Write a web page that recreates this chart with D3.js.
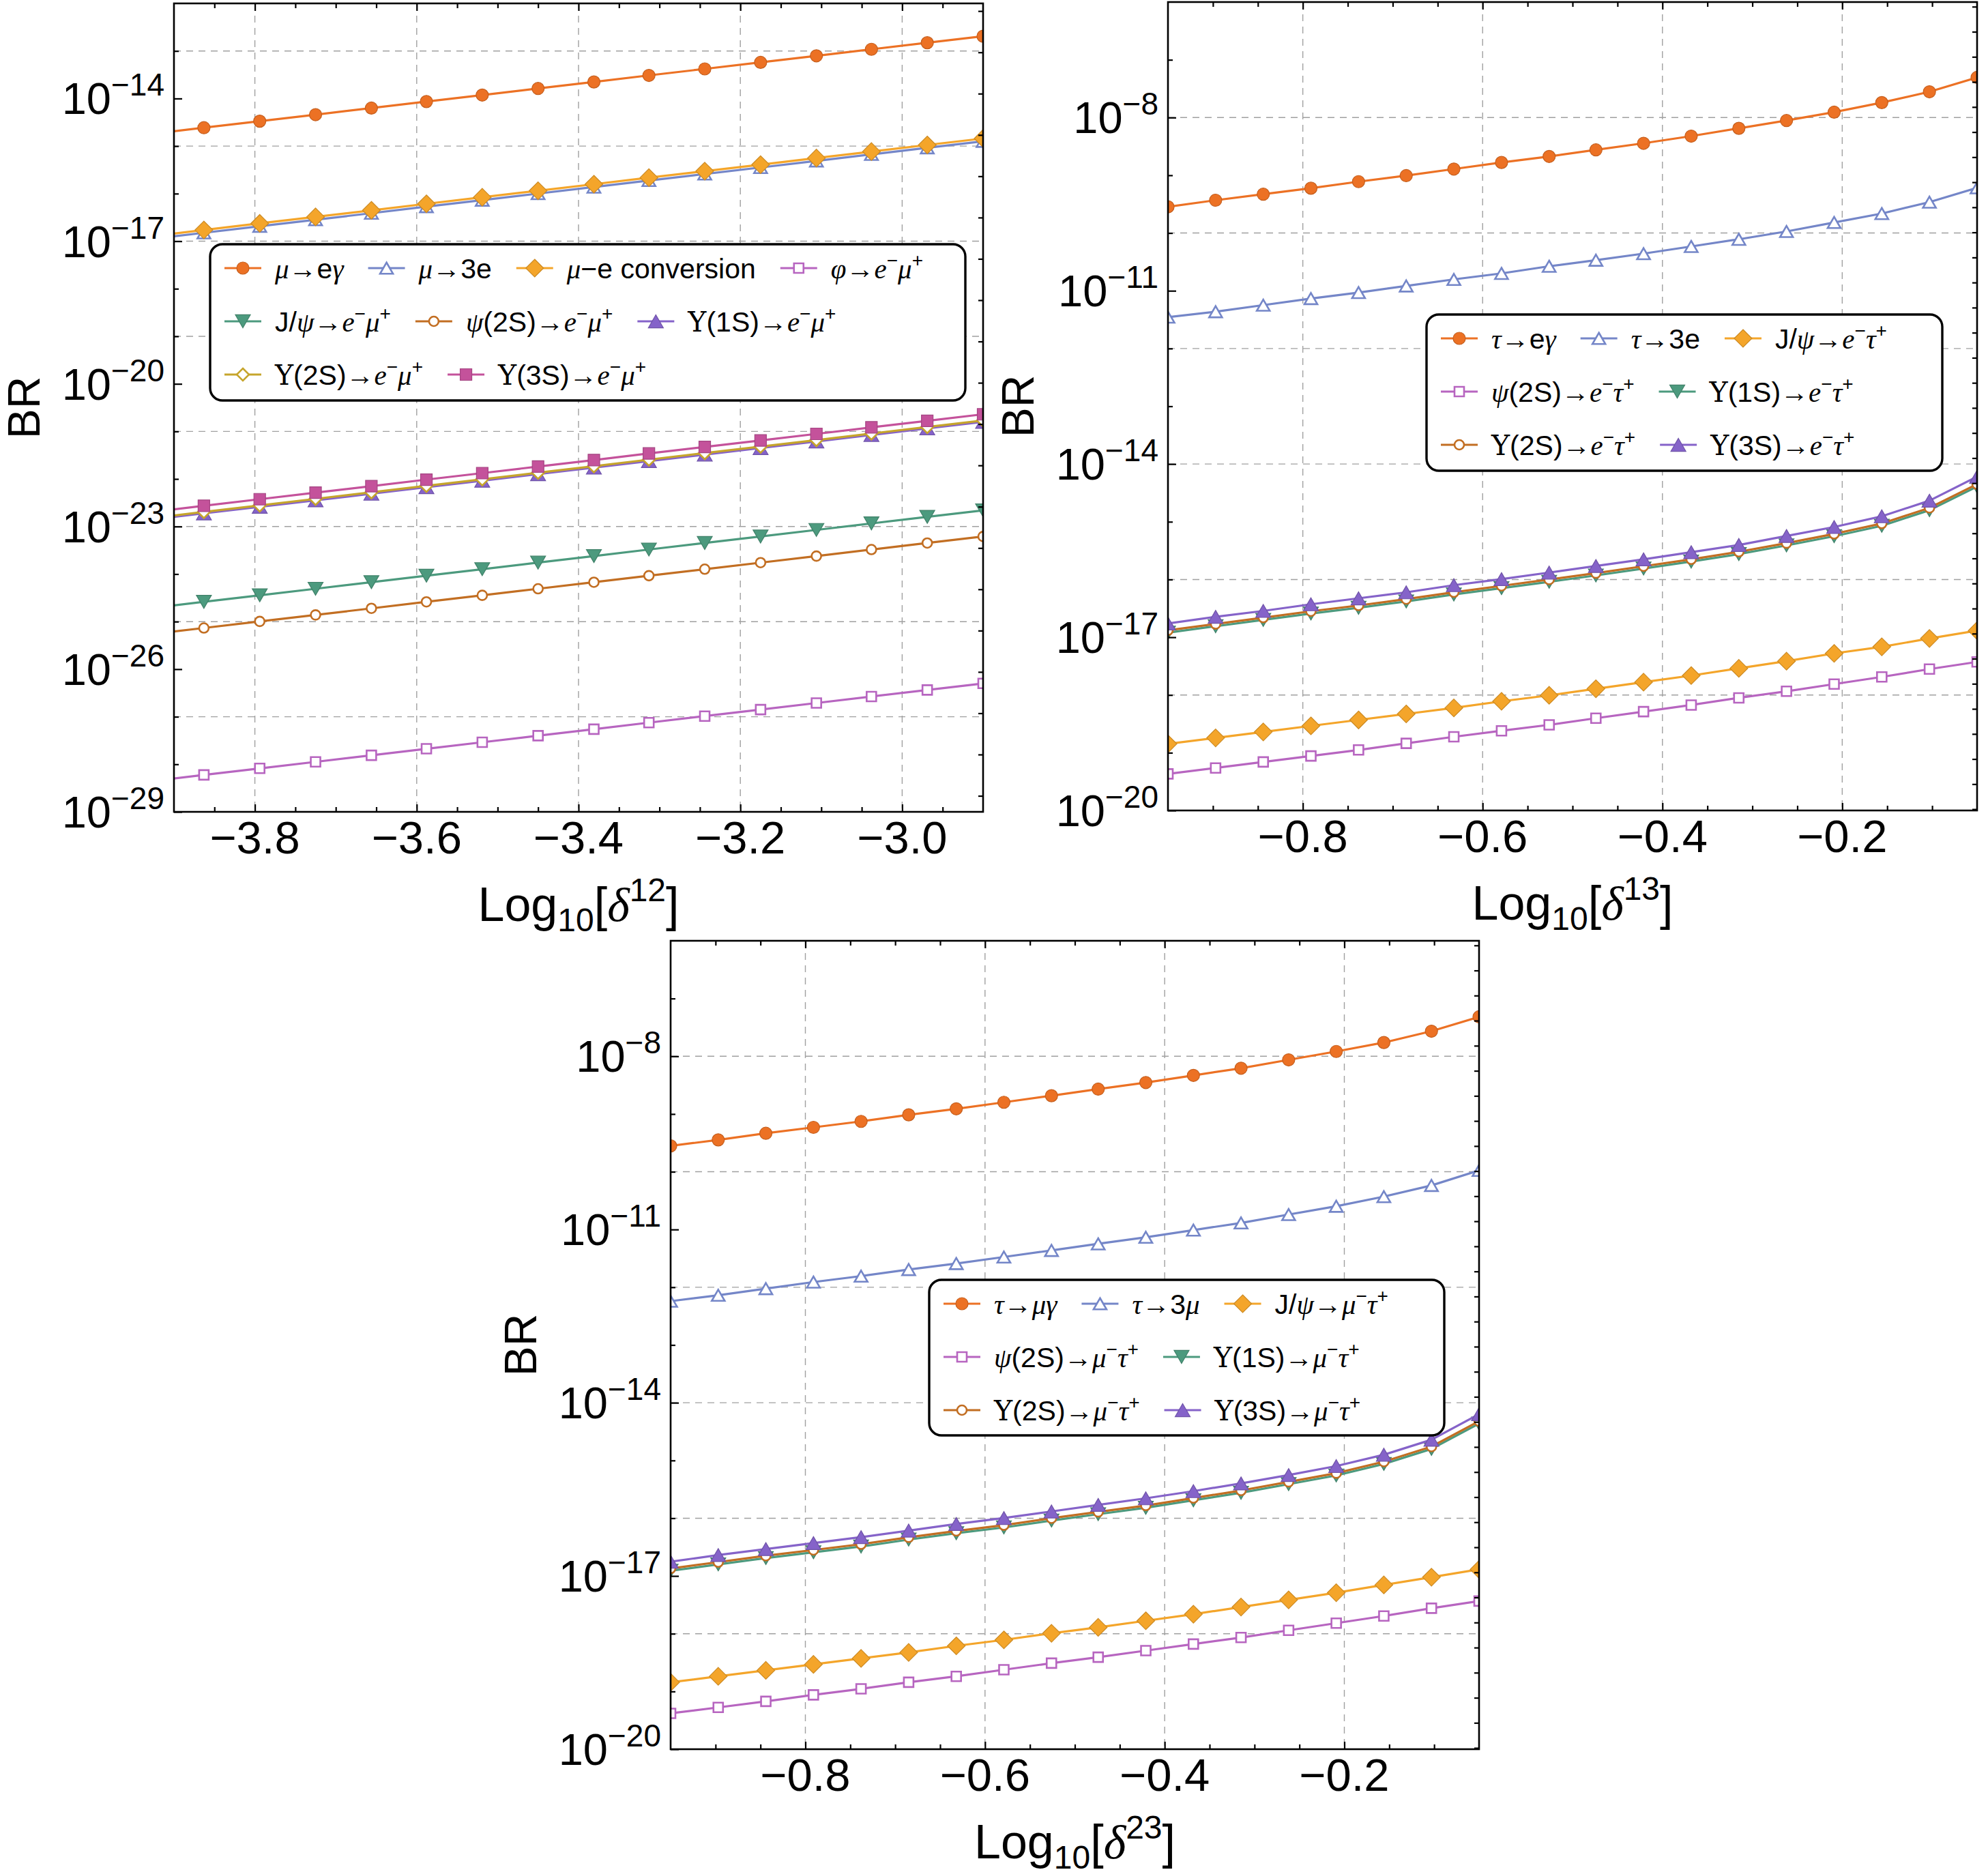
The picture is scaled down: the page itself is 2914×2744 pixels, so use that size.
<!DOCTYPE html>
<html>
<head>
<meta charset="utf-8">
<script src="https://cdn.jsdelivr.net/npm/d3@7"></script>
<style>
  body { margin: 0; background: #fff; }
  text { font-family: "Liberation Sans", Arial, Helvetica, sans-serif; fill: #000; }
  .mi { font-family: "Liberation Serif", "Times New Roman", serif; font-style: italic; }
  .mu { font-family: "DejaVu Serif", "Liberation Serif", serif; }
</style>
</head>
<body>
<svg id="fig" width="2914" height="2744"></svg>
<script>
// ---- data (log10 of BR) ----

// panel 1: x = Log10[delta^12]
var x12 = [-3.931, -3.863, -3.794, -3.725, -3.656, -3.588, -3.519, -3.450,
           -3.381, -3.313, -3.244, -3.175, -3.106, -3.038, -2.969, -2.900];
var mu_egamma = [-14.751, -14.614, -14.476, -14.339, -14.201, -14.064, -13.927, -13.789,
                 -13.652, -13.514, -13.377, -13.240, -13.102, -12.965, -12.827, -12.690];
var mu_3e = [-16.961, -16.824, -16.686, -16.549, -16.411, -16.274, -16.137, -15.999,
             -15.862, -15.724, -15.587, -15.450, -15.312, -15.175, -15.037, -14.900];
var mu_conv = [-16.901, -16.764, -16.626, -16.489, -16.351, -16.214, -16.077, -15.939,
               -15.802, -15.664, -15.527, -15.390, -15.252, -15.115, -14.977, -14.840];
var phi_emu = [-28.361, -28.224, -28.086, -27.949, -27.811, -27.674, -27.537, -27.399,
               -27.262, -27.124, -26.987, -26.850, -26.712, -26.575, -26.437, -26.300];
var jpsi_emu = [-24.721, -24.584, -24.446, -24.309, -24.171, -24.034, -23.897, -23.759,
                -23.622, -23.484, -23.347, -23.210, -23.072, -22.935, -22.797, -22.660];
var psi2s_emu = [-25.271, -25.134, -24.996, -24.859, -24.721, -24.584, -24.447, -24.309,
                 -24.172, -24.034, -23.897, -23.760, -23.622, -23.485, -23.347, -23.210];
var ups1s_emu = [-22.861, -22.724, -22.586, -22.449, -22.311, -22.174, -22.037, -21.899,
                 -21.762, -21.624, -21.487, -21.350, -21.212, -21.075, -20.937, -20.800];
var ups2s_emu = [-22.831, -22.694, -22.556, -22.419, -22.281, -22.144, -22.007, -21.869,
                 -21.732, -21.594, -21.457, -21.320, -21.182, -21.045, -20.907, -20.770];
var ups3s_emu = [-22.701, -22.564, -22.426, -22.289, -22.151, -22.014, -21.877, -21.739,
                 -21.602, -21.464, -21.327, -21.190, -21.052, -20.915, -20.777, -20.640];

// panel 2: x = Log10[delta^13]
var x13 = [-0.950, -0.897, -0.844, -0.791, -0.738, -0.685, -0.632, -0.579, -0.526,
           -0.474, -0.421, -0.368, -0.315, -0.262, -0.209, -0.156, -0.103, -0.050];
var tau_egamma = [-9.546, -9.432, -9.328, -9.224, -9.110, -9.006, -8.892, -8.778, -8.674,
                  -8.560, -8.446, -8.322, -8.187, -8.052, -7.907, -7.741, -7.554, -7.305];
var tau_3e = [-11.456, -11.363, -11.249, -11.135, -11.031, -10.917, -10.803, -10.699, -10.575,
              -10.471, -10.357, -10.232, -10.108, -9.973, -9.817, -9.662, -9.465, -9.216];
var jpsi_etau = [-18.846, -18.743, -18.639, -18.535, -18.432, -18.328, -18.224, -18.110, -18.006,
                 -17.892, -17.778, -17.664, -17.539, -17.415, -17.280, -17.166, -17.021, -16.886];
var psi2s_etau = [-19.367, -19.264, -19.160, -19.056, -18.952, -18.838, -18.724, -18.620, -18.517,
                  -18.402, -18.288, -18.174, -18.050, -17.936, -17.811, -17.687, -17.552, -17.427];
var ups1s_etau = [-16.92, -16.81, -16.70, -16.59, -16.49, -16.38, -16.26, -16.15, -16.04,
                  -15.93, -15.81, -15.69, -15.56, -15.41, -15.25, -15.07, -14.80, -14.39];
var ups2s_etau = [-16.88, -16.77, -16.66, -16.55, -16.45, -16.34, -16.22, -16.11, -16.00,
                  -15.89, -15.77, -15.65, -15.52, -15.37, -15.21, -15.03, -14.76, -14.35];
var ups3s_etau = [-16.761, -16.647, -16.544, -16.429, -16.326, -16.222, -16.098, -15.994, -15.880,
                  -15.766, -15.651, -15.527, -15.402, -15.247, -15.091, -14.905, -14.635, -14.220];

// panel 3: x = Log10[delta^23]
var x23 = [-0.950, -0.897, -0.844, -0.791, -0.738, -0.685, -0.632, -0.579, -0.526,
           -0.474, -0.421, -0.368, -0.315, -0.262, -0.209, -0.156, -0.103, -0.050];
var tau_mugamma = [-9.552, -9.448, -9.334, -9.231, -9.128, -9.014, -8.910, -8.797, -8.683,
                   -8.569, -8.455, -8.331, -8.207, -8.062, -7.917, -7.762, -7.566, -7.317];
var tau_3mu = [-12.241, -12.138, -12.024, -11.910, -11.807, -11.693, -11.590, -11.476, -11.362,
               -11.248, -11.134, -11.010, -10.886, -10.741, -10.597, -10.431, -10.237, -9.976];
var jpsi_mutau = [-18.841, -18.738, -18.634, -18.531, -18.428, -18.324, -18.210, -18.107, -17.993,
                  -17.890, -17.776, -17.662, -17.538, -17.414, -17.290, -17.155, -17.021, -16.886];
var psi2s_mutau = [-19.379, -19.276, -19.172, -19.059, -18.955, -18.841, -18.738, -18.624, -18.510,
                   -18.407, -18.293, -18.179, -18.066, -17.941, -17.817, -17.693, -17.559, -17.435];
var ups1s_mutau = [-16.91, -16.80, -16.69, -16.59, -16.49, -16.37, -16.26, -16.16, -16.04,
                   -15.93, -15.82, -15.69, -15.56, -15.41, -15.26, -15.06, -14.80, -14.36];
var ups2s_mutau = [-16.87, -16.76, -16.65, -16.55, -16.45, -16.33, -16.22, -16.12, -16.00,
                   -15.89, -15.78, -15.65, -15.52, -15.37, -15.22, -15.02, -14.76, -14.32];
var ups3s_mutau = [-16.752, -16.638, -16.534, -16.431, -16.328, -16.214, -16.100, -15.997, -15.883,
                   -15.769, -15.655, -15.531, -15.397, -15.252, -15.097, -14.900, -14.641, -14.197];

// legend labels ({..} italic math, <..> upright serif, ^c superscript)
var labels12 = ["{μ}→e{γ}", "{μ}→3e", "{μ}−e conversion", "{φ}→{e}^−{μ}^+",
                "J/{ψ}→{e}^−{μ}^+", "{ψ}(2S)→{e}^−{μ}^+", "<Υ>(1S)→{e}^−{μ}^+",
                "<Υ>(2S)→{e}^−{μ}^+", "<Υ>(3S)→{e}^−{μ}^+"];
var labels13 = ["{τ}→e{γ}", "{τ}→3e", "J/{ψ}→{e}^−{τ}^+", "{ψ}(2S)→{e}^−{τ}^+",
                "<Υ>(1S)→{e}^−{τ}^+", "<Υ>(2S)→{e}^−{τ}^+", "<Υ>(3S)→{e}^−{τ}^+"];
var labels23 = ["{τ}→{μγ}", "{τ}→3{μ}", "J/{ψ}→{μ}^−{τ}^+", "{ψ}(2S)→{μ}^−{τ}^+",
                "<Υ>(1S)→{μ}^−{τ}^+", "<Υ>(2S)→{μ}^−{τ}^+", "<Υ>(3S)→{μ}^−{τ}^+"];

// ---- styles (Mathematica-like default markers) ----
var styles = [
  {shape: "circle",   fill: true,  color: "#EC7124", size: 9},
  {shape: "triangle", fill: false, color: "#7486C8", size: 19},
  {shape: "diamond",  fill: true,  color: "#F4A52A", size: 13},
  {shape: "square",   fill: false, color: "#B765C0", size: 14},
  {shape: "triDown",  fill: true,  color: "#4C9A7E", size: 22},
  {shape: "circle",   fill: false, color: "#C26E22", size: 7},
  {shape: "triangle", fill: true,  color: "#8563C9", size: 22},
  {shape: "diamond",  fill: false, color: "#C6A52C", size: 9},
  {shape: "square",   fill: true,  color: "#C4529B", size: 17}
];

var panels = [
  {
    id: 1, left: 255, top: 5, w: 1186, h: 1185,
    x: x12, xDomain: [-3.9, -2.9], yDomain: [1e-29, 1e-12],
    xMajor: [-3.8, -3.6, -3.4, -3.2, -3.0],
    yLabels: [-14, -17, -20, -23, -26, -29], yGrid: [-13, -15, -17, -19, -21, -23, -25, -27],
    lnStep: 2, sup: "12",
    series: [mu_egamma, mu_3e, mu_conv, phi_emu, jpsi_emu, psi2s_emu, ups1s_emu, ups2s_emu, ups3s_emu],
    labels: labels12, rows: [[0, 1, 2, 3], [4, 5, 6], [7, 8]],
    legend: {x: 308, y: 358, w: 1107, h: 229}
  },
  {
    id: 2, left: 1712, top: 3, w: 1186, h: 1185,
    x: x13, xDomain: [-0.95, -0.05], yDomain: [1e-20, 1e-6],
    xMajor: [-0.8, -0.6, -0.4, -0.2],
    yLabels: [-8, -11, -14, -17, -20], yGrid: [-8, -10, -12, -14, -16, -18],
    lnStep: 1, sup: "13",
    series: [tau_egamma, tau_3e, jpsi_etau, psi2s_etau, ups1s_etau, ups2s_etau, ups3s_etau],
    labels: labels13, rows: [[0, 1, 2], [3, 4], [5, 6]],
    legend: {x: 2091, y: 461, w: 756, h: 229}
  },
  {
    id: 3, left: 983, top: 1379, w: 1185, h: 1185,
    x: x23, xDomain: [-0.95, -0.05], yDomain: [1e-20, 1e-6],
    xMajor: [-0.8, -0.6, -0.4, -0.2],
    yLabels: [-8, -11, -14, -17, -20], yGrid: [-8, -10, -12, -14, -16, -18],
    lnStep: 1, sup: "23",
    series: [tau_mugamma, tau_3mu, jpsi_mutau, psi2s_mutau, ups1s_mutau, ups2s_mutau, ups3s_mutau],
    labels: labels23, rows: [[0, 1, 2], [3, 4], [5, 6]],
    legend: {x: 1362, y: 1876, w: 755, h: 228}
  }
];

var svg = d3.select("#fig");
svg.append("rect").attr("width", 2914).attr("height", 2744).attr("fill", "#fff");

function markerPath(shape, s) {
  if (shape === "circle") {
    return `M${-s},0A${s},${s} 0 1,0 ${s},0A${s},${s} 0 1,0 ${-s},0Z`;
  }
  if (shape === "square") {
    var a = s / 2;
    return `M${-a},${-a}H${a}V${a}H${-a}Z`;
  }
  if (shape === "diamond") {
    return `M0,${-s}L${s},0L0,${s}L${-s},0Z`;
  }
  var h = s * 0.866;
  if (shape === "triangle") {
    return `M0,${-h / 2}L${s / 2},${h / 2}L${-s / 2},${h / 2}Z`;
  }
  return `M0,${h / 2}L${s / 2},${-h / 2}L${-s / 2},${-h / 2}Z`;
}

function styleMarker(sel, st) {
  sel.attr("d", markerPath(st.shape, st.size));
  if (st.fill) {
    sel.attr("fill", st.color)
      .attr("stroke", d3.color(st.color).darker(0.5))
      .attr("stroke-width", 1.2);
  } else {
    sel.attr("fill", "#fff")
      .attr("stroke", st.color)
      .attr("stroke-width", 2.6);
  }
}

// parse the little label markup into [kind, text] pieces
function parseLabel(str) {
  var out = [];
  var i = 0;
  while (i < str.length) {
    var c = str[i];
    if (c === "{") {
      var j = str.indexOf("}", i);
      out.push(["i", str.slice(i + 1, j)]);
      i = j + 1;
    } else if (c === "<") {
      var k = str.indexOf(">", i);
      out.push(["u", str.slice(i + 1, k)]);
      i = k + 1;
    } else if (c === "^") {
      out.push(["p", str[i + 1]]);
      i += 2;
    } else {
      if (out.length && out[out.length - 1][0] === "n") out[out.length - 1][1] += c;
      else out.push(["n", c]);
      i++;
    }
  }
  return out;
}

function richText(textSel, pieces, size) {
  var shift = 0;
  pieces.forEach(function (p) {
    var target = p[0] === "p" ? -size * 0.42 : (p[0] === "b" ? size * 0.22 : 0);
    var ts = textSel.append("tspan").text(p[1]).attr("dy", target - shift);
    shift = target;
    if (p[0] === "i") ts.attr("class", "mi");
    if (p[0] === "u") ts.attr("class", "mu");
    if (p[0] === "p" || p[0] === "b") ts.attr("font-size", Math.round(size * 0.68));
  });
}

panels.forEach(function (p) {
  var g = svg.append("g");
  var x = d3.scaleLinear().domain(p.xDomain).range([p.left, p.left + p.w]);
  var y = d3.scaleLog().domain(p.yDomain).range([p.top + p.h, p.top]);
  var bottom = p.top + p.h;

  svg.append("clipPath").attr("id", "clip" + p.id)
    .append("rect")
    .attr("x", p.left).attr("y", p.top).attr("width", p.w).attr("height", p.h);

  // grid lines
  g.append("g").selectAll("line").data(p.xMajor).enter().append("line")
    .attr("x1", d => x(d)).attr("x2", d => x(d))
    .attr("y1", p.top).attr("y2", bottom)
    .attr("stroke", "#a0a0a0").attr("stroke-width", 1.4).attr("stroke-dasharray", "10,8");
  g.append("g").selectAll("line").data(p.yGrid).enter().append("line")
    .attr("x1", p.left).attr("x2", p.left + p.w)
    .attr("y1", d => y(Math.pow(10, d))).attr("y2", d => y(Math.pow(10, d)))
    .attr("stroke", "#a0a0a0").attr("stroke-width", 1.4).attr("stroke-dasharray", "10,8");

  // series
  var plot = g.append("g").attr("clip-path", "url(#clip" + p.id + ")");
  var line = d3.line().x(d => x(d[0])).y(d => y(d[1]));
  p.series.forEach(function (vals, si) {
    var st = styles[si];
    var pts = p.x.map((xv, i) => [xv, Math.pow(10, vals[i])]);
    plot.append("path").datum(pts)
      .attr("d", line)
      .attr("fill", "none")
      .attr("stroke", st.color)
      .attr("stroke-width", 3.2)
      .attr("stroke-linejoin", "round");
    plot.append("g").selectAll("path").data(pts).enter().append("path")
      .attr("transform", d => `translate(${x(d[0])},${y(d[1])})`)
      .call(styleMarker, st);
  });

  // ticks
  var xMinor = d3.range(Math.round(p.xDomain[0] * 20) + 1, Math.round(p.xDomain[1] * 20))
    .map(v => v / 20)
    .filter(v => p.xMajor.every(m => Math.abs(m - v) > 1e-6));
  var logLo = Math.log10(p.yDomain[0]), logHi = Math.log10(p.yDomain[1]);
  var yMinor = d3.range(logLo + 1, logHi).filter(e => p.yLabels.indexOf(e) < 0).map(e => Math.pow(10, e));
  var yMajor = p.yLabels.map(e => Math.pow(10, e));
  var lnLo = Math.ceil(Math.log(p.yDomain[0]) / p.lnStep) * p.lnStep;
  var lnHi = Math.floor(Math.log(p.yDomain[1]) / p.lnStep) * p.lnStep;
  var yRight = d3.range(lnLo, lnHi + 0.5, p.lnStep).map(v => Math.exp(v));

  function tickAxis(axis, tr) {
    var a = g.append("g").attr("transform", tr).call(axis);
    a.select(".domain").remove();
    a.selectAll(".tick line").attr("stroke", "#000").attr("stroke-width", 2.2);
    a.selectAll(".tick text").remove();
  }
  tickAxis(d3.axisBottom(x).tickValues(p.xMajor).tickSize(-11), `translate(0,${bottom})`);
  tickAxis(d3.axisBottom(x).tickValues(xMinor).tickSize(-7), `translate(0,${bottom})`);
  tickAxis(d3.axisTop(x).tickValues(p.xMajor).tickSize(-11), `translate(0,${p.top})`);
  tickAxis(d3.axisTop(x).tickValues(xMinor).tickSize(-7), `translate(0,${p.top})`);
  tickAxis(d3.axisLeft(y).tickValues(yMajor).tickSize(-12), `translate(${p.left},0)`);
  tickAxis(d3.axisLeft(y).tickValues(yMinor).tickSize(-7), `translate(${p.left},0)`);
  tickAxis(d3.axisRight(y).tickValues(yRight).tickSize(-7), `translate(${p.left + p.w},0)`);

  // frame
  g.append("rect")
    .attr("x", p.left).attr("y", p.top).attr("width", p.w).attr("height", p.h)
    .attr("fill", "none").attr("stroke", "#000").attr("stroke-width", 2.6);

  // tick labels
  var fmt = d3.format(".1f");
  g.append("g").selectAll("text").data(p.xMajor).enter().append("text")
    .attr("x", d => x(d)).attr("y", bottom + 61)
    .attr("text-anchor", "middle").attr("font-size", 67)
    .text(d => fmt(d));
  p.yLabels.forEach(function (e) {
    var t = g.append("text")
      .attr("x", p.left - 14).attr("y", y(Math.pow(10, e)) + 23)
      .attr("text-anchor", "end").attr("font-size", 65);
    t.append("tspan").text("10");
    t.append("tspan").attr("font-size", 46).attr("dy", -27).text("−" + Math.abs(e));
  });

  // axis titles
  g.append("text")
    .attr("transform", `translate(${p.left - 197},${p.top + p.h / 2}) rotate(-90)`)
    .attr("text-anchor", "middle").attr("font-size", 66)
    .text("BR");
  var xt = g.append("text")
    .attr("x", p.left + p.w / 2).attr("y", bottom + 160)
    .attr("text-anchor", "middle").attr("font-size", 70);
  richText(xt, [["n", "Log"], ["b", "10"], ["n", "["], ["i", "δ"], ["p", p.sup], ["n", "]"]], 70);

  // legend
  var L = p.legend;
  var lg = g.append("g");
  lg.append("rect")
    .attr("x", L.x).attr("y", L.y).attr("width", L.w).attr("height", L.h)
    .attr("rx", 18).attr("ry", 18)
    .attr("fill", "#fff").attr("stroke", "#000").attr("stroke-width", 3.4);
  p.rows.forEach(function (row, ri) {
    var cy = L.y + 35 + ri * 78;
    var sx = L.x + 21;
    row.forEach(function (si) {
      var st = styles[si];
      lg.append("line")
        .attr("x1", sx).attr("x2", sx + 54).attr("y1", cy).attr("y2", cy)
        .attr("stroke", st.color).attr("stroke-width", 3.2);
      lg.append("path")
        .attr("transform", `translate(${sx + 27},${cy})`)
        .call(styleMarker, st);
      var t = lg.append("text")
        .attr("x", sx + 74).attr("y", cy + 15)
        .attr("font-size", 41);
      richText(t, parseLabel(p.labels[si]), 41);
      sx = sx + 74 + t.node().getComputedTextLength() + 36;
    });
  });
});
</script>
</body>
</html>
